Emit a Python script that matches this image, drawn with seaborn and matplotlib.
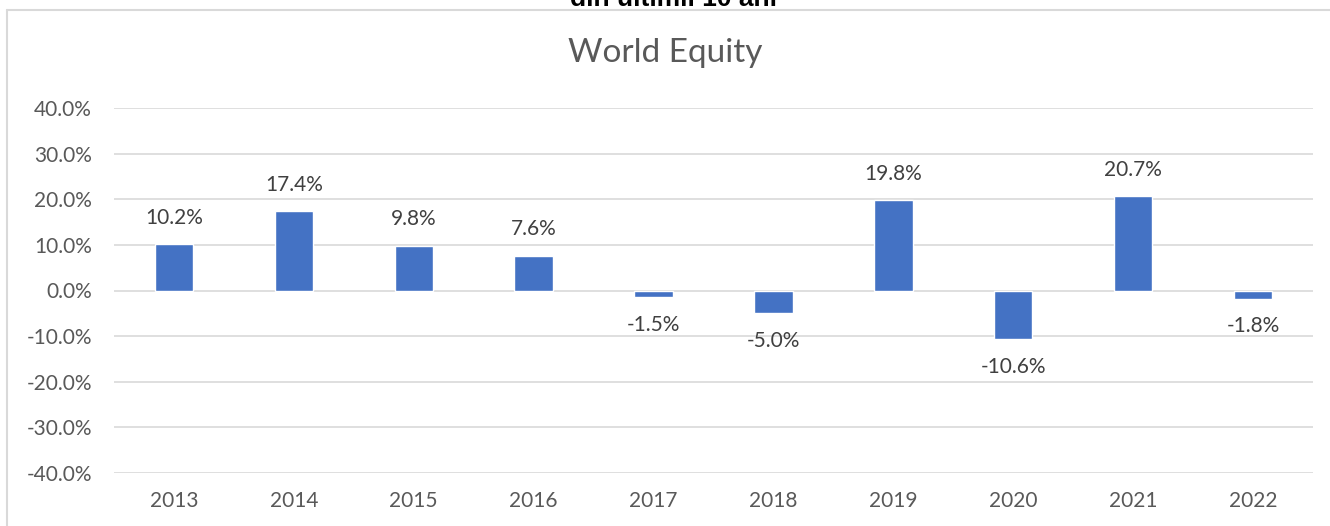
import matplotlib
matplotlib.use("Agg")
import matplotlib.pyplot as plt
from matplotlib.lines import Line2D
from matplotlib.ticker import FuncFormatter
import pandas as pd
import seaborn as sns

# chart data
years = ["2013", "2014", "2015", "2016", "2017", "2018", "2019", "2020", "2021", "2022"]
returns = [10.2, 17.4, 9.8, 7.6, -1.5, -5.0, 19.8, -10.6, 20.7, -1.8]
y_ticks = [-40, -30, -20, -10, 0, 10, 20, 30, 40]

BAR_COLOR = "#4472c4"
TEXT_COLOR = "#595959"
GRID_COLOR = "#d9d9d9"

sns.set_style("white")
plt.rcParams["font.family"] = ["Lato", "DejaVu Sans"]

df = pd.DataFrame({"year": years, "ret": returns})

fig = plt.figure(figsize=(13.3, 5.26), dpi=100)
ax = fig.add_axes([114 / 1330, 1 - 473 / 526, (1313 - 114) / 1330, (473 - 108) / 526])

sns.barplot(data=df, x="year", y="ret", color=BAR_COLOR, width=0.32,
            saturation=1, ax=ax, zorder=3)

ax.set_ylim(-40, 40)
ax.set_xlim(-0.5, len(years) - 0.5)
ax.set_yticks(y_ticks)
ax.yaxis.set_major_formatter(FuncFormatter(lambda v, _: f"{v:.1f}%"))
ax.grid(axis="y", color=GRID_COLOR, linewidth=1.2, zorder=0)
ax.grid(axis="x", visible=False)
for s in ax.spines.values():
    s.set_visible(False)
ax.tick_params(axis="y", length=0, pad=16, labelsize=15, labelcolor=TEXT_COLOR)
ax.tick_params(axis="x", length=0, pad=13, labelsize=15, labelcolor=TEXT_COLOR)
ax.set_xlabel("")
ax.set_ylabel("")

# data labels
for i, v in enumerate(returns):
    off = 19 if v >= 0 else -20
    ax.annotate(f"{v:.1f}%", (i, v), xytext=(0, off), textcoords="offset points",
                ha="center", va="center", fontsize=15, color="#404040")

# title
fig.text(0.5, 1 - 53 / 526, "World Equity", ha="center", va="center",
         fontsize=24, color=TEXT_COLOR)

# clipped heading from the page above the chart
fig.text(674 / 1330, 1 - 6 / 526, "din ultimii 10 ani", ha="center", va="baseline",
         fontsize=19, fontweight="bold", color="black",
         family=["Liberation Sans", "DejaVu Sans"])

# chart frame edges
fig.add_artist(Line2D([7 / 1330, 7 / 1330], [0, 1 - 10 / 526], color=GRID_COLOR, lw=1.5))
fig.add_artist(Line2D([7 / 1330, 1], [1 - 10 / 526, 1 - 10 / 526], color=GRID_COLOR, lw=1.5))

fig.savefig("out.png", dpi=100, facecolor="white")
